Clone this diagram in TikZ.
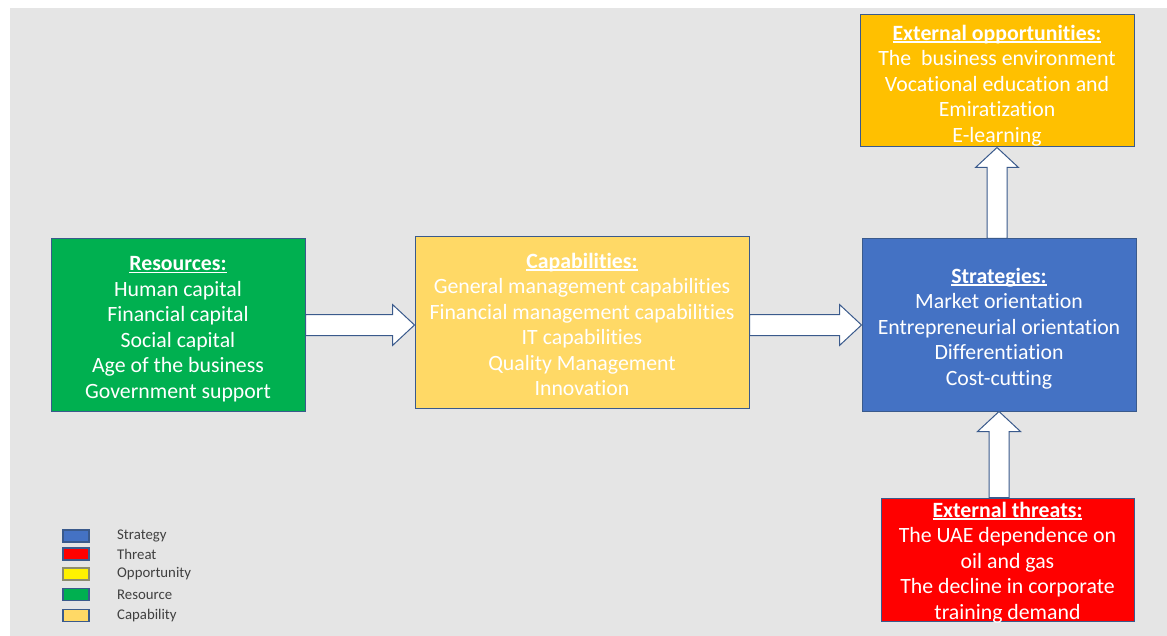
\documentclass[tikz,border=0pt]{standalone}
\usepackage{fontspec}
\setmainfont{Carlito}[Ligatures={NoCommon}]
\usetikzlibrary{calc}

\definecolor{bggrey}{HTML}{E5E5E5}
\definecolor{resgreen}{HTML}{00B050}
\definecolor{capgold}{HTML}{FFD966}
\definecolor{oppamber}{HTML}{FFC000}
\definecolor{strblue}{HTML}{4472C4}
\definecolor{thrred}{HTML}{FF0000}
\definecolor{edgeblue}{HTML}{3A5A8C}
\definecolor{oppedge}{HTML}{8C8C6E}
\definecolor{legtext}{HTML}{404040}

% bold heading with a close underline
\newcommand\heading[1]{\setbox0\hbox{\bfseries #1}\rlap{\rule[-2.4pt]{\wd0}{1.3pt}}\box0}

% horizontal block arrow from #1 to #2, axis at the height of #3
\newcommand\hblockarrow[3]{%
  \draw[blockarrow] let \p1=(#1.east), \p2=(#2.west), \p3=(#3) in
    (\x1,\y3+10.5pt) -- (\x2-22pt,\y3+10.5pt) -- (\x2-22pt,\y3+20.5pt) --
    (\x2,\y3) -- (\x2-22pt,\y3-20.5pt) -- (\x2-22pt,\y3-10.5pt) --
    (\x1,\y3-10.5pt) -- cycle;}

% upward block arrow from #1 (below) to #2 (above)
\newcommand\vblockarrow[2]{%
  \draw[blockarrow] let \p1=(#1.north), \p2=(#2.south) in
    (\x2-10pt,\y1) -- (\x2-10pt,\y2-20pt) -- (\x2-21.5pt,\y2-20pt) --
    (\x2,\y2) -- (\x2+21.5pt,\y2-20pt) -- (\x2+10pt,\y2-20pt) --
    (\x2+10pt,\y1) -- cycle;}

\tikzset{
  box/.style={draw=edgeblue, line width=1pt, inner sep=0pt},
  boxtext/.style={text=white, align=center, inner sep=0pt,
    font=\fontsize{21.8}{25.5}\selectfont},
  blockarrow/.style={draw=edgeblue, line width=1pt, fill=white, line join=miter},
  swatch/.style={draw=edgeblue, line width=1.2pt, minimum width=26pt,
    minimum height=12pt, inner sep=0pt},
  legendlabel/.style={anchor=west, inner sep=0pt, text=legtext,
    font=\fontsize{14.8}{16}\selectfont}
}

\begin{document}
\begin{tikzpicture}[x=1pt, y=-1pt]
  \useasboundingbox (0,0) rectangle (1167,636);
  \fill[white] (0,0) rectangle (1167,636);
  \fill[bggrey] (10,8) rectangle (1167,636);

  % main blocks
  \node[box, fill=resgreen, minimum width=254pt, minimum height=172pt] (res) at (178,325) {};
  \node[boxtext, yshift=-4pt] (res-text) at (res.center)
    {\heading{Resources:}\\Human capital\\Financial capital\\Social capital\\Age of the business\\Government support};

  \node[box, fill=capgold, minimum width=334pt, minimum height=171pt] (cap) at (582,322.5) {};
  \node[boxtext, yshift=-2pt] (cap-text) at (cap.center)
    {\heading{Capabilities:}\\General management capabilities\\Financial management capabilities\\IT capabilities\\Quality Management\\Innovation};

  \node[box, fill=strblue, minimum width=274pt, minimum height=172pt] (str) at (999,325) {};
  \node[boxtext, yshift=-3.5pt] (str-text) at (str.center)
    {\heading{Strategies:}\\Market orientation\\Entrepreneurial orientation\\Differentiation\\Cost-cutting};

  \node[box, fill=oppamber, minimum width=274pt, minimum height=132pt] (opp) at (997,81) {};
  \node[boxtext, yshift=-4.5pt] (opp-text) at (opp.center)
    {\heading{External opportunities:}\\The \ business environment\\Vocational education and\\Emiratization\\E-learning};

  \node[box, fill=thrred, minimum width=253pt, minimum height=123pt] (thr) at (1007.5,559.5) {};
  \node[boxtext, yshift=-3pt] (thr-text) at (thr.center)
    {\heading{External threats:}\\The UAE dependence on\\oil and gas\\The decline in corporate\\training demand};

  % block arrows
  \hblockarrow{res}{cap}{res.east}
  \hblockarrow{cap}{str}{str.west}
  \vblockarrow{str}{opp}
  \vblockarrow{thr}{str}

  % legend
  \foreach \c/\b/\t/\y [count=\i] in {
      strblue/edgeblue/Strategy/536,
      thrred/edgeblue/Threat/554,
      yellow/oppedge/Opportunity/574,
      resgreen/edgeblue/Resource/594.5,
      capgold/edgeblue/Capability/615.5}{
    \node[swatch, fill=\c, draw=\b] (sw\i) at (76,\y) {};
    \node[legendlabel] (lb\i) at (117,\y) {\t};
  }
\end{tikzpicture}
\end{document}
